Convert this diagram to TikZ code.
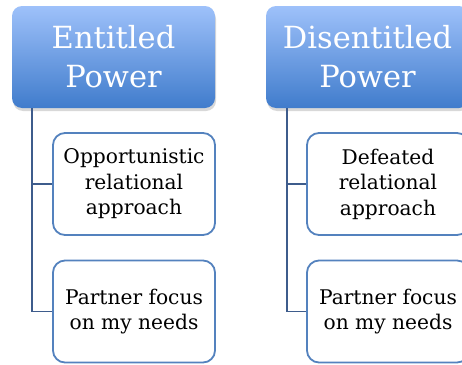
\documentclass[tikz,border=0pt]{standalone}
\usepackage{fontspec}
\setmainfont{DejaVu Serif}
\usepackage{tikz}
\usetikzlibrary{shadows}
\definecolor{headtop}{RGB}{158,193,250}
\definecolor{headbot}{RGB}{64,124,204}
\definecolor{leafline}{RGB}{84,130,190}
\definecolor{linkline}{RGB}{62,92,140}
\tikzstyle{head} = [rectangle, rounded corners=10pt, minimum width=203pt, minimum height=102pt, align=center, text=white, top color=headtop, bottom color=headbot, drop shadow={opacity=0.3, shadow xshift=1pt, shadow yshift=-3pt}, font=\fontsize{30.5}{39}\selectfont, inner sep=0pt]
\tikzstyle{leaf} = [rectangle, rounded corners=12pt, minimum width=162pt, minimum height=102pt, align=center, draw=leafline, line width=1.8pt, fill=white, font=\fontsize{20.2}{25.5}\selectfont, inner sep=0pt]
\tikzstyle{link} = [draw=linkline, line width=1.8pt]

\begin{document}
\begin{tikzpicture}[x=1pt, y=-1pt]
    \clip (0,0) rectangle (462,364);
    \fill [white] (0,0) rectangle (462,364);

    \node (1) [head] at (113.5,57) {Entitled\\Power};
    \node (2) [leaf] at (134,184) {Opportunistic\\relational\\approach};
    \node (3) [leaf] at (134,311.5) {Partner focus\\on my needs};

    \node (4) [head] at (367.5,57) {Disentitled\\Power};
    \node (5) [leaf] at (388,184) {Defeated\\relational\\approach};
    \node (6) [leaf] at (388,311.5) {Partner focus\\on my needs};

    \draw [link] (1.south west) ++(20,0) |- (2.west);
    \draw [link] (1.south west) ++(20,0) |- (3.west);
    \draw [link] (4.south west) ++(21,0) |- (5.west);
    \draw [link] (4.south west) ++(21,0) |- (6.west);
\end{tikzpicture}
\end{document}
